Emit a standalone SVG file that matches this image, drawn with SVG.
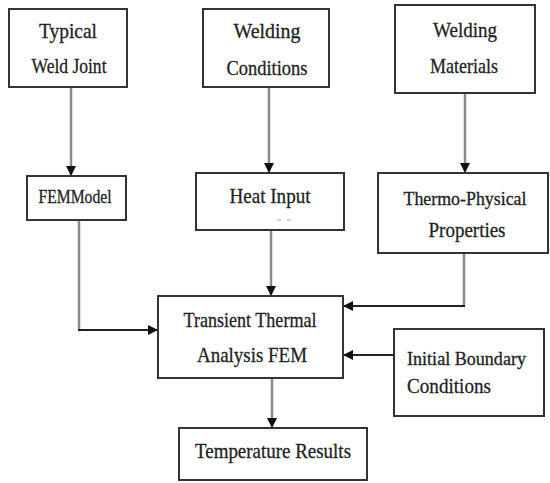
<svg xmlns="http://www.w3.org/2000/svg" width="550" height="483" viewBox="0 0 550 483">
<style>
.box{fill:#fff;stroke:#333;stroke-width:2}
.t{font-family:"Liberation Serif","Times New Roman",serif;font-size:22px;fill:#222;text-anchor:middle;stroke:#222;stroke-width:0.3}
.ts{font-size:19px}
.tm{font-size:19px}
.l{text-anchor:start}
.v{stroke:#8a8a8a;stroke-width:2.5;fill:none}
.h{stroke:#222;stroke-width:2;fill:none}
</style>
<defs>
<marker id="ah" viewBox="0 0 10 10" refX="10" refY="5" markerWidth="10" markerHeight="10" markerUnits="userSpaceOnUse" orient="auto">
<path d="M0,0 L10,5 L0,10 Z" fill="#111"/>
</marker>
</defs>
<rect width="550" height="483" fill="#fff"/>
<g id="connectors">
<line class="v" x1="71" y1="87" x2="71" y2="176" marker-end="url(#ah)"/>
<line class="v" x1="269" y1="87" x2="269" y2="173" marker-end="url(#ah)"/>
<line class="v" x1="465" y1="93" x2="465" y2="173" marker-end="url(#ah)"/>
<line class="v" x1="271" y1="230" x2="271" y2="296" marker-end="url(#ah)"/>
<polyline class="v" points="79,220 79,330"/>
<line class="h" x1="78" y1="330" x2="158" y2="330" marker-end="url(#ah)"/>
<polyline class="v" points="464,253 464,306"/>
<line class="h" x1="465" y1="306" x2="343" y2="306" marker-end="url(#ah)"/>
<line class="h" x1="394" y1="355" x2="343" y2="355" marker-end="url(#ah)"/>
<line class="v" x1="272" y1="378" x2="272" y2="428" marker-end="url(#ah)"/>
</g>
<g id="typical-weld-joint">
<rect class="box" x="9" y="9" width="118" height="78"/>
<text class="t" x="68" y="38" textLength="58" lengthAdjust="spacingAndGlyphs">Typical</text>
<text class="t" x="69" y="73" textLength="75" lengthAdjust="spacingAndGlyphs">Weld Joint</text>
</g>
<g id="welding-conditions">
<rect class="box" x="203" y="9" width="126" height="78"/>
<text class="t" x="267" y="38" textLength="67" lengthAdjust="spacingAndGlyphs">Welding</text>
<text class="t" x="267" y="75" textLength="81" lengthAdjust="spacingAndGlyphs">Conditions</text>
</g>
<g id="welding-materials">
<rect class="box" x="395" y="5" width="140" height="88"/>
<text class="t" x="465" y="37" textLength="64" lengthAdjust="spacingAndGlyphs">Welding</text>
<text class="t" x="464" y="73" textLength="68" lengthAdjust="spacingAndGlyphs">Materials</text>
</g>
<g id="fem-model">
<rect class="box" x="27" y="176" width="99" height="44"/>
<text class="t ts" x="75" y="203" textLength="73" lengthAdjust="spacingAndGlyphs">FEMModel</text>
</g>
<g id="heat-input">
<rect class="box" x="196" y="173" width="148" height="57"/>
<text class="t" x="270" y="203" textLength="81" lengthAdjust="spacingAndGlyphs">Heat Input</text>
<path d="M277,220 h4 M287,220 h4" stroke="#aaa" stroke-width="1"/>
</g>
<g id="thermo-physical-properties">
<rect class="box" x="378" y="173" width="170" height="80"/>
<text class="t tm" x="465" y="205" textLength="123" lengthAdjust="spacingAndGlyphs">Thermo-Physical</text>
<text class="t" x="467" y="237" textLength="77" lengthAdjust="spacingAndGlyphs">Properties</text>
</g>
<g id="transient-thermal-analysis">
<rect class="box" x="158" y="296" width="185" height="82"/>
<text class="t" x="250" y="327" textLength="133" lengthAdjust="spacingAndGlyphs">Transient Thermal</text>
<text class="t" x="252" y="362" textLength="110" lengthAdjust="spacingAndGlyphs">Analysis FEM</text>
</g>
<g id="initial-boundary-conditions">
<rect class="box" x="394" y="329" width="150" height="87"/>
<text class="t tm l" x="407" y="365" textLength="119" lengthAdjust="spacingAndGlyphs">Initial Boundary</text>
<text class="t l" x="407" y="393" textLength="84" lengthAdjust="spacingAndGlyphs">Conditions</text>
</g>
<g id="temperature-results">
<rect class="box" x="179" y="428" width="188" height="52"/>
<text class="t" x="273" y="458" textLength="156" lengthAdjust="spacingAndGlyphs">Temperature Results</text>
</g>
</svg>
